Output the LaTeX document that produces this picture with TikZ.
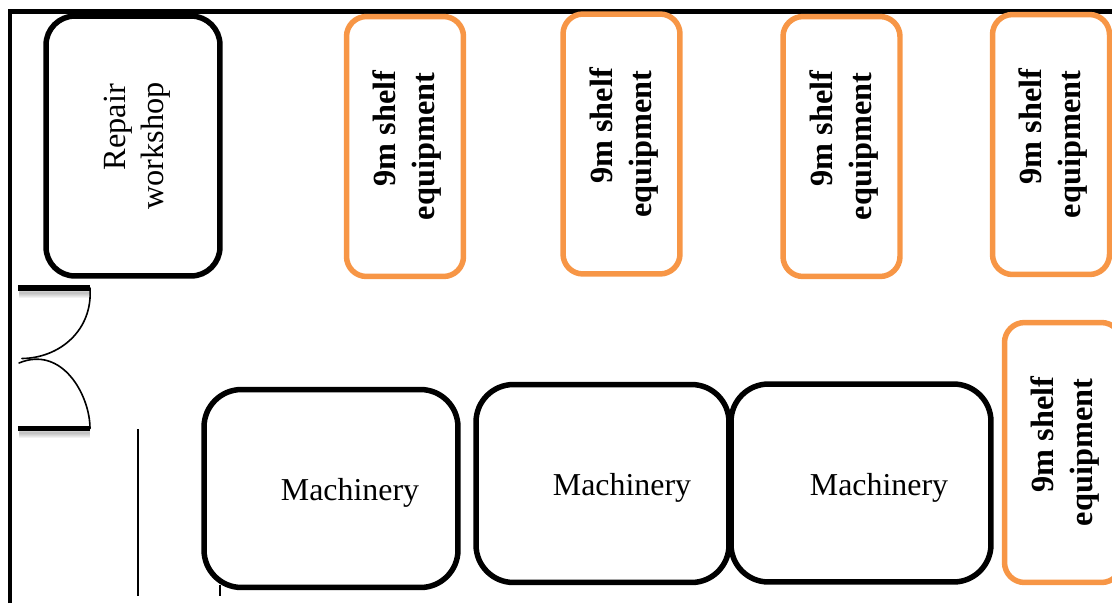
\documentclass[tikz,border=0pt]{standalone}
\usepackage{fontspec}
\setmainfont{Liberation Serif}
\usepackage{xcolor}
\definecolor{shelforange}{HTML}{F79646}

\begin{document}
\begin{tikzpicture}[x=0.02cm, y=-0.02cm, line cap=round, line join=round]
  % styles
  \tikzset{
    wall/.style={black, line width=0.1cm, line cap=butt},
    doorbar/.style={black, line width=0.115cm, line cap=butt},
    doorshade/.style={black, opacity=0.05, line cap=butt},
    thinline/.style={black, line width=0.025cm, line cap=butt},
    doorarc/.style={black, line width=0.032cm},
    roombox/.style={draw=black, line width=0.11cm, inner sep=0pt, align=center},
    shelfbox/.style={draw=shelforange, line width=0.11cm, inner sep=0pt,
      rotate=90, rounded corners=0.4cm, minimum height=2.34cm, minimum width=5.2cm},
    shelflab/.style={rotate=90, inner sep=0pt, align=center,
      font=\fontsize{18.4}{22.2}\selectfont\bfseries},
    machinebox/.style={roombox, rounded corners=0.75cm, minimum height=3.96cm},
    machinelab/.style={font=\fontsize{18.15}{22}\selectfont, inner sep=0pt}
  }

  \useasboundingbox (0,0) rectangle (1112,603);
  \clip (0,0) rectangle (1112,603);

  % ----- outer walls -----
  \coordinate (WallB) at (10,603);
  \coordinate (WallC) at (10,11);
  \coordinate (WallR) at (1112,11);
  \draw[wall, line join=miter] (WallB) -- (WallC) -- (WallR);

  % ----- repair workshop -----
  \node[roombox, rotate=90, rounded corners=0.58cm, minimum width=5.2cm, minimum height=3.48cm]
    (repair) at (133,146) {};
  \node[rotate=90, inner sep=0pt, align=center, font=\fontsize{18.4}{21.6}\selectfont]
    (repairlab) at (137.5,146) {\hspace*{21.5pt}Repair\\workshop};

  % ----- shelves -----
  \foreach \name/\xc/\yc in {shelfa/405/146.5, shelfb/621.5/144, shelfc/841.5/146.5, shelfd/1051/144.5, shelfe/1063/452.5} {
    \node[shelfbox] (\name) at (\xc,\yc) {};
    \node[shelflab] (\name lab) at ([xshift=0.05cm]\name.center) {\hspace*{20.5pt}9m shelf\\equipment};
  }

  % ----- machinery -----
  \node[machinebox, minimum width=5.08cm] (macha) at (331,488.5) {};
  \node[machinebox, minimum width=5.06cm] (machb) at (602.5,483.5) {};
  \node[machinebox, minimum width=5.2cm]  (machc) at (861,483) {};
  \node[machinelab] (laba) at (350,493) {Machinery};
  \node[machinelab] (labb) at (622,488) {Machinery};
  \node[machinelab] (labc) at (879,488) {Machinery};

  % ----- double door -----
  \coordinate (DoorTL) at (18,288);
  \coordinate (DoorTR) at (90,288);
  \coordinate (DoorBL) at (18,428.5);
  \coordinate (DoorBR) at (90,428.5);
  \foreach \w in {0.04,0.08,0.12,0.16,0.2} {
    \draw[doorshade, line width=\w cm] (19,292.5) -- (90,292.5);
    \draw[doorshade, line width=\w cm] (19,433) -- (90,433);
  }
  \draw[doorbar] (DoorTL) -- (DoorTR);
  \draw[doorbar] (DoorBL) -- (DoorBR);
  \draw[doorarc] (DoorTR) .. controls (93,330) and (60,358) .. (22,358.5);
  \draw[doorarc] (DoorBR) .. controls (90,395) and (62,345) .. (19,363);

  % ----- thin partition lines -----
  \coordinate (PartA) at (138,429);
  \coordinate (PartB) at (138,596);
  \coordinate (PartC) at (220,585);
  \coordinate (PartD) at (220,596);
  \draw[thinline] (PartA) -- (PartB);
  \draw[thinline] (PartC) -- (PartD);
\end{tikzpicture}
\end{document}
